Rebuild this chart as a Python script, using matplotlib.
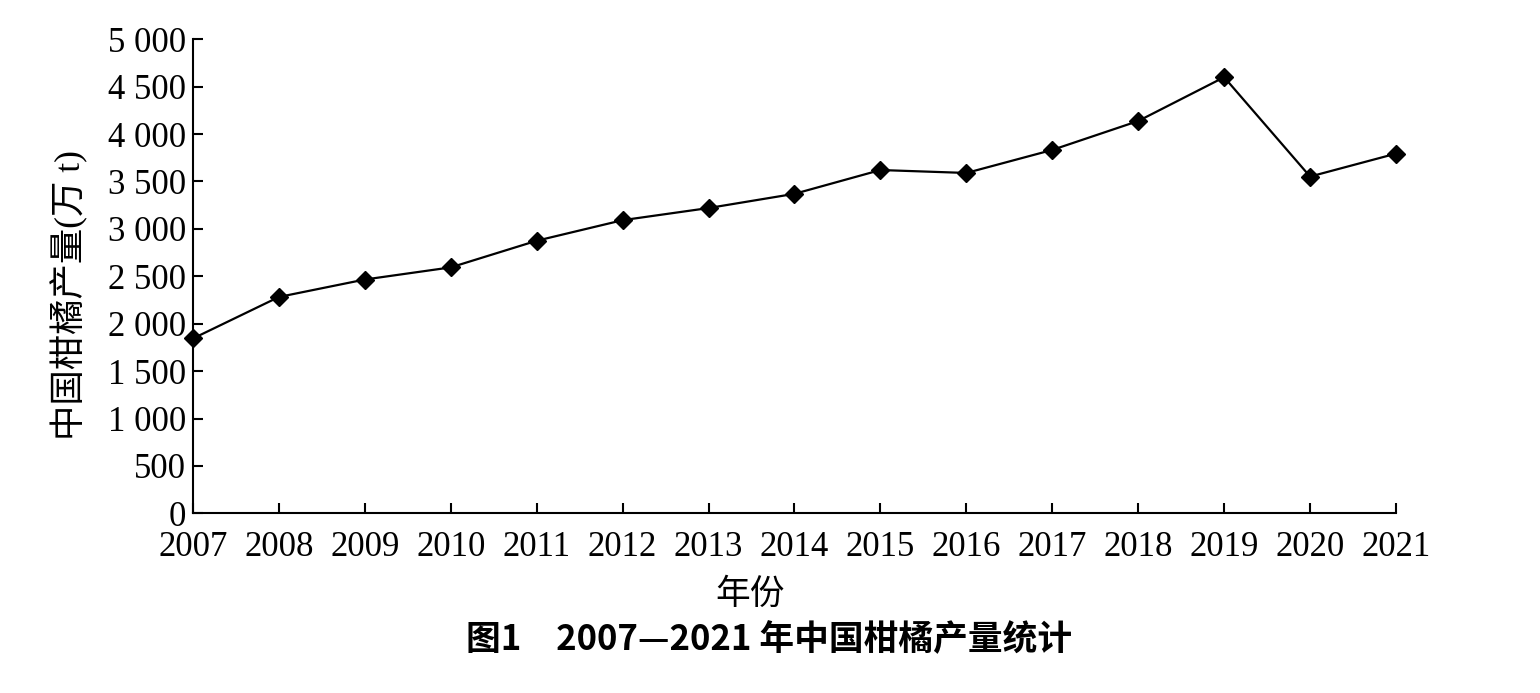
import matplotlib
matplotlib.use("Agg")
import matplotlib.pyplot as plt

years = [2007, 2008, 2009, 2010, 2011, 2012, 2013, 2014, 2015, 2016, 2017, 2018, 2019, 2020, 2021]
production = [1844, 2282, 2466, 2594, 2875, 3092, 3220, 3370, 3621, 3590, 3833, 4138, 4600, 3552, 3794]
y_ticks = [0, 500, 1000, 1500, 2000, 2500, 3000, 3500, 4000, 4500, 5000]
y_tick_labels = ["0", "500", "1 000", "1 500", "2 000", "2 500", "3 000", "3 500", "4 000", "4 500", "5 000"]

serif = ["Liberation Serif", "Noto Sans CJK SC", "DejaVu Sans"]
cjk = ["Noto Sans CJK SC", "DejaVu Sans"]

fig = plt.figure(figsize=(15.4, 6.93), dpi=100)
ax = fig.add_axes([0.1253, 0.2593, 0.9065 - 0.1253, 0.9433 - 0.2593])

ax.plot(years, production, color="black", lw=1.6, marker="D", ms=9.5,
        markerfacecolor="black", markeredgecolor="black", clip_on=False, zorder=3)

ax.set_xlim(years[0], years[-1])
ax.set_ylim(0, 5000)
ax.set_xticks(years)
ax.set_xticklabels([str(y) for y in years])
ax.set_yticks(y_ticks)
ax.set_yticklabels(y_tick_labels)

for s in ["top", "right"]:
    ax.spines[s].set_visible(False)
for s in ["left", "bottom"]:
    ax.spines[s].set_linewidth(1.5)

ax.tick_params(axis="both", direction="in", length=7, width=1.5, labelsize=25)
ax.tick_params(axis="x", pad=13)
ax.tick_params(axis="y", pad=5)
for lab in ax.get_xticklabels() + ax.get_yticklabels():
    lab.set_family(serif)

fig.text(70 / 1540, 1 - 295 / 693, "中国柑橘产量(万 t)", family=serif, fontsize=25.5,
         rotation=90, ha="center", va="center")

fig.text(750 / 1540, 1 - 594 / 693, "年份", family=cjk, fontsize=25, ha="center", va="center")
fig.text(769 / 1540, 1 - 640 / 693, "图1　2007—2021 年中国柑橘产量统计", family=cjk, fontsize=25,
         fontweight="bold", ha="center", va="center")

fig.savefig("out.png", dpi=100)
